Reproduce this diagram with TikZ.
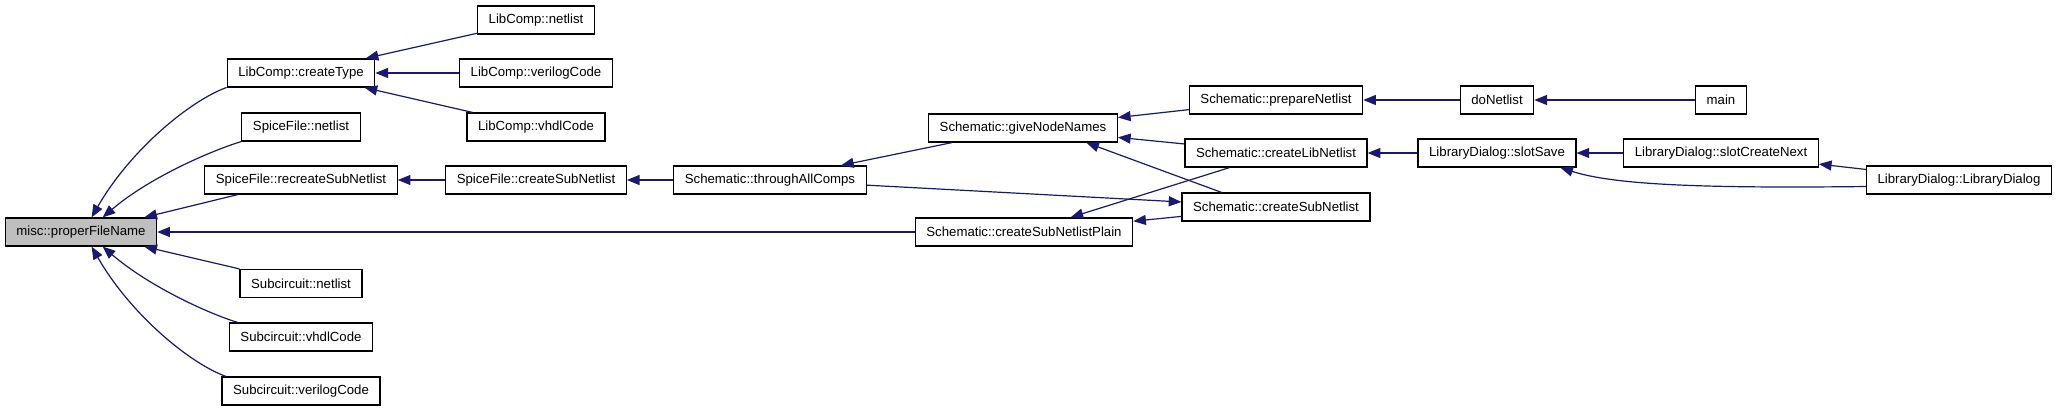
\documentclass[tikz,border=0pt]{standalone}
\usepackage{fontspec}
\setsansfont{Liberation Sans}
\usetikzlibrary{arrows.meta}
\definecolor{dxEdge}{HTML}{191970}
\definecolor{dxRoot}{HTML}{BFBFBF}

\begin{document}
\begin{tikzpicture}[
  x=0.75pt, y=-0.75pt,
  fnbox/.style={draw=black, fill=white, line width=.9pt, inner xsep=8.3pt,
    inner ysep=0pt, minimum height=21pt,
    font=\sffamily\fontsize{9.9}{12}\selectfont},
  rootbox/.style={fnbox, fill=dxRoot},
  callarrow/.style={draw=dxEdge, line width=.9pt,
    -{Triangle[length=9.5pt,width=7.5pt]}},
]
\useasboundingbox (0,0) rectangle (2056,411);
\fill[white] (0,0) rectangle (2056,411);

% ---- the function itself -------------------------------------------------
\node[rootbox] (misc) at (81,232) {misc::properFileName};

% ---- direct callers --------------------------------------------------------
\node[fnbox] (ctype)      at (301,73)    {LibComp::createType};
\node[fnbox] (sfnet)      at (301,127)   {SpiceFile::netlist};
\node[fnbox] (sfrecreate) at (301,180)   {SpiceFile::recreateSubNetlist};
\node[fnbox] (scnet)      at (301,283.5) {Subcircuit::netlist};
\node[fnbox] (scvhdl)     at (301,337)   {Subcircuit::vhdlCode};
\node[fnbox] (scverilog)  at (301,391)   {Subcircuit::verilogCode};

% ---- second column ---------------------------------------------------------
\node[fnbox] (lcnet)     at (536,20)  {LibComp::netlist};
\node[fnbox] (lcverilog) at (536,73)  {LibComp::verilogCode};
\node[fnbox] (lcvhdl)    at (536,127) {LibComp::vhdlCode};
\node[fnbox] (sfcreate)  at (536,180) {SpiceFile::createSubNetlist};

% ---- schematic side --------------------------------------------------------
\node[fnbox] (throughall) at (770,180)  {Schematic::throughAllComps};
\node[fnbox] (givenames)  at (1023,128) {Schematic::giveNodeNames};
\node[fnbox] (subplain)   at (1024,232) {Schematic::createSubNetlistPlain};
\node[fnbox] (prepare)    at (1276,100) {Schematic::prepareNetlist};
\node[fnbox] (libnet)     at (1276,153) {Schematic::createLibNetlist};
\node[fnbox] (subnet)     at (1276,207) {Schematic::createSubNetlist};

% ---- top level -------------------------------------------------------------
\node[fnbox] (donetlist) at (1497,100) {doNetlist};
\node[fnbox] (mainfn)    at (1721,100) {main};
\node[fnbox] (slotsave)  at (1497,153) {LibraryDialog::slotSave};
\node[fnbox] (slotnext)  at (1721,153) {LibraryDialog::slotCreateNext};
\node[fnbox] (libdialog) at (1959,180) {LibraryDialog::LibraryDialog};

% ---- calls into misc::properFileName ---------------------------------------
\draw[callarrow] (ctype.191) .. controls +(-36,13) and +(39,-68) .. (misc.54);
\draw[callarrow] (sfnet.south west) .. controls +(-27,8) and +(48,-41) .. (misc.34);
\draw[callarrow] (sfrecreate.193) -- (misc.13);
\draw[callarrow] (subplain) -- (misc);
\draw[callarrow] (scnet.north west) -- (misc.-13);
\draw[callarrow] (scvhdl.167) .. controls +(-27,-8) and +(48,41) .. (misc.-34);
\draw[callarrow] (scverilog.169) .. controls +(-36,-13) and +(39,68) .. (misc.-54);

% ---- the other calls -------------------------------------------------------
\foreach \from/\to in {lcnet/ctype, lcverilog/ctype, lcvhdl/ctype,
    sfcreate/sfrecreate, throughall/sfcreate, givenames/throughall,
    prepare/givenames, libnet/givenames, throughall/subnet, subnet/subplain,
    libnet/subplain, donetlist/prepare, mainfn/donetlist, slotsave/libnet,
    slotnext/slotsave, libdialog/slotnext}
  \draw[callarrow] (\from) -- (\to);
\draw[callarrow] (subnet.165) -- (givenames.-13);
\draw[callarrow] (libdialog.184) .. controls +(-167,2) and +(53,17) .. (slotsave.-13);
\end{tikzpicture}
\end{document}
